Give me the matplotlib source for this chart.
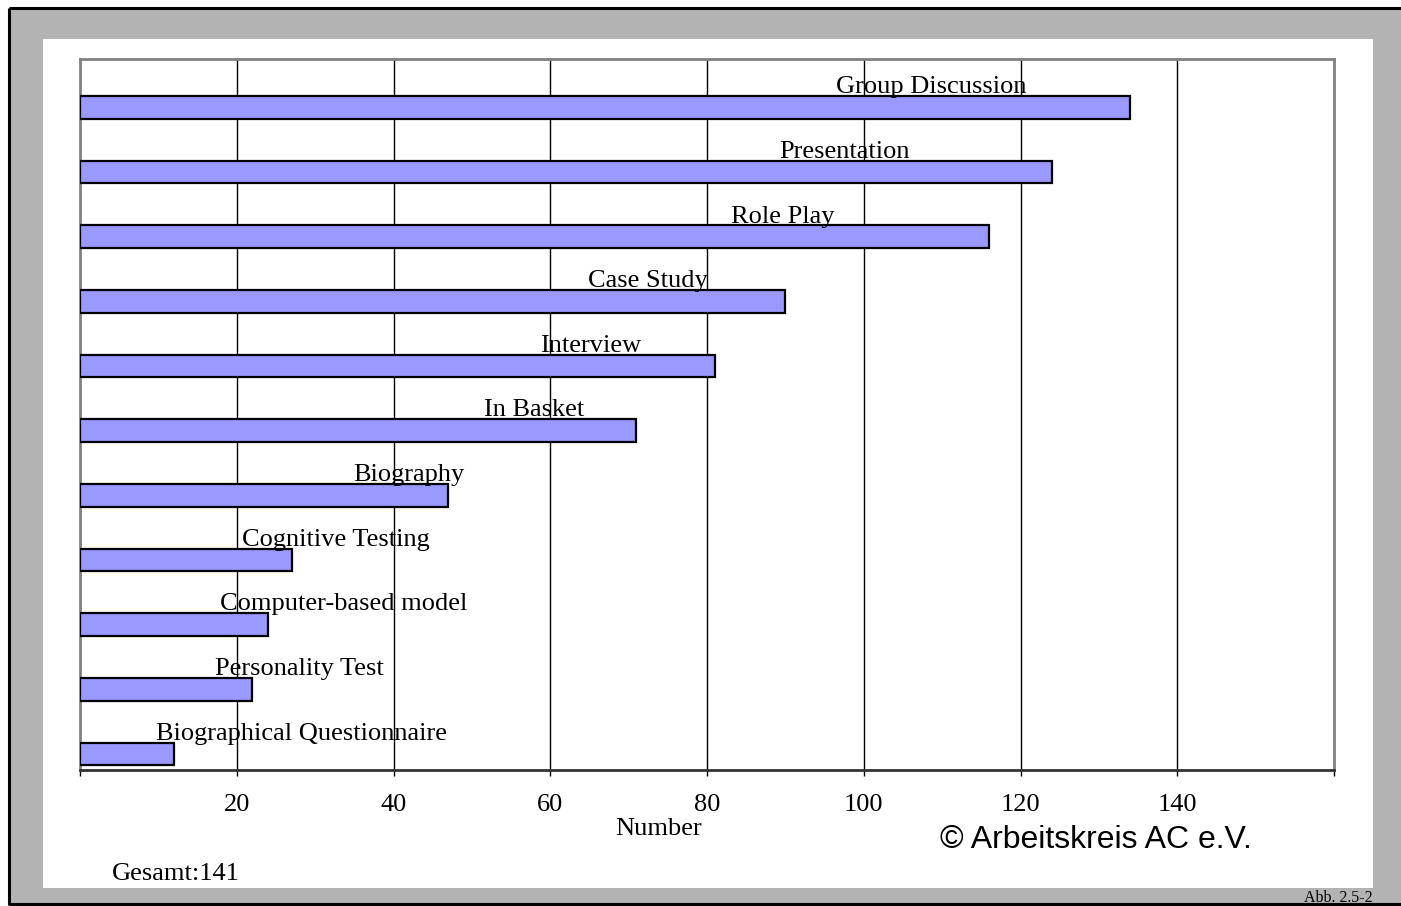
import matplotlib
matplotlib.use("Agg")
import matplotlib.pyplot as plt
from matplotlib.patches import Rectangle
from matplotlib.lines import Line2D

categories = ["Group Discussion", "Presentation", "Role Play", "Case Study", "Interview",
              "In Basket", "Biography", "Cognitive Testing", "Computer-based model",
              "Personality Test", "Biographical Questionnaire"]
values = [134, 124, 116, 90, 81, 71, 47, 27, 24, 22, 12]
tick_values = [20, 40, 60, 80, 100, 120, 140]

# label centre positions (x, data units) as placed in the original
label_x = [108.6, 97.5, 89.7, 72.4, 65.2, 58.0, 41.9, 32.6, 33.7, 28.0, 28.3]

W, H = 1401, 906
fig = plt.figure(figsize=(W / 100, H / 100), dpi=100)
fig.patch.set_facecolor("white")

def fx(px):
    return px / W

def fy(py):
    return 1 - py / H

# frame: gray band, white panel, black outline on left/top/bottom
fig.patches.append(Rectangle((fx(9), fy(904)), 1.0, fy(8) - fy(904),
                             transform=fig.transFigure, facecolor="#b3b3b3",
                             edgecolor="none", zorder=-3))
fig.patches.append(Rectangle((fx(43), fy(888)), fx(1373) - fx(43), fy(39) - fy(888),
                             transform=fig.transFigure, facecolor="white",
                             edgecolor="none", zorder=-2))
for xs, ys in [([fx(9), fx(9)], [fy(8), fy(905)]),
               ([fx(9), 1.0], [fy(8), fy(8)]),
               ([fx(9), 1.0], [fy(904), fy(904)])]:
    fig.lines.append(Line2D(xs, ys, transform=fig.transFigure, color="black",
                            linewidth=2.2, zorder=-1, solid_capstyle="butt"))

ax = fig.add_axes([fx(80), fy(770), fx(1334) - fx(80), fy(59) - fy(770)])
ax.set_facecolor("none")
ax.set_zorder(2)

ypos = list(range(len(categories)))
ax.barh(ypos, values, height=0.35, color="#9999ff", edgecolor="black",
        linewidth=1.6, zorder=3)

serif = ["Liberation Serif", "DejaVu Serif"]
for y, lab, lx in zip(ypos, categories, label_x):
    ax.text(lx, y - 0.22, lab, ha="center", va="baseline", fontsize=19,
            family=serif, zorder=4)

ax.set_xlim(0, 160)
ax.set_ylim(10.25, -0.75)
ax.set_yticks([])
ax.set_xticks([0] + tick_values + [160])
ax.set_xticklabels([""] + [str(v) for v in tick_values] + [""], family=serif, fontsize=19)
ax.tick_params(axis="x", direction="out", length=4.5, width=1, pad=13, color="black")
for v in tick_values:
    ax.axvline(v, color="black", linewidth=1, zorder=1)

for side in ["left", "top", "right"]:
    ax.spines[side].set_color("#808080")
    ax.spines[side].set_linewidth(2)
ax.spines["bottom"].set_color("#333333")
ax.spines["bottom"].set_linewidth(2)

fig.text(fx(659), fy(835), "Number", ha="center", va="baseline", fontsize=19, family=serif)
fig.text(fx(940), fy(848), "© Arbeitskreis AC e.V.", ha="left", va="baseline",
         fontsize=23, family=["Liberation Sans", "DejaVu Sans"])
fig.text(fx(112), fy(880), "Gesamt:141", ha="left", va="baseline", fontsize=19, family=serif)
fig.text(fx(1373), fy(902), "Abb. 2.5-2", ha="right", va="baseline", fontsize=11.5, family=serif)

fig.savefig("out.png", dpi=100)
